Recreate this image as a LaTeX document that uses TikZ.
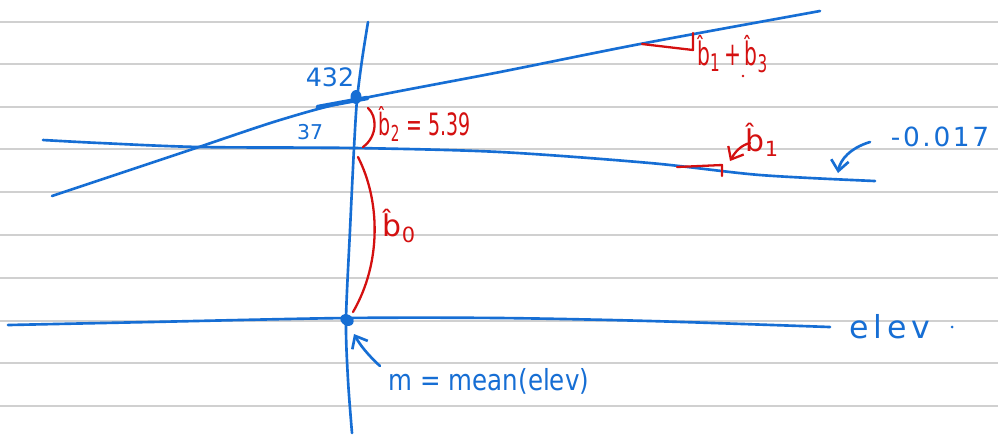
\documentclass[tikz,border=0pt]{standalone}
\usepackage{fontspec}
\setmainfont{DejaVu Sans}
\usepackage{graphicx}
\usetikzlibrary{arrows.meta}
\definecolor{inkblue}{RGB}{22,110,212}
\definecolor{inkred}{RGB}{212,16,16}
\definecolor{rule}{RGB}{208,208,208}
\tikzset{
  ruled/.style={draw=rule, line width=0.6pt},
  bluepen/.style={draw=inkblue, line width=0.75pt, line cap=round, line join=round},
  redpen/.style={draw=inkred, line width=0.65pt, line cap=round, line join=round},
  bluetxt/.style={text=inkblue, inner sep=0pt, font=\fontsize{7.5}{8}\selectfont},
  redtxt/.style={text=inkred, inner sep=0pt, font=\fontsize{8.5}{9}\selectfont},
  barb/.style={-{Straight Barb[length=3pt,width=5pt]}}
}
\begin{document}
\begin{tikzpicture}[x=0.01cm,y=-0.01cm]
\useasboundingbox (0,0) rectangle (998,435);
\fill[white] (0,0) rectangle (998,435);
% ruled paper
\foreach \yy in {22,64,107,149,192,235,278,321,363,406}
  \draw[ruled] (0,\yy) -- (998,\yy);

% vertical axis
\draw[bluepen] plot[smooth] coordinates {(368,22) (362,60) (357,100) (354,148) (350,230) (346,320) (348,380) (352,433)};
% elev axis
\draw[bluepen] plot[smooth] coordinates {(8,325) (150,322) (345,318) (500,318) (650,321) (830,327)};
% middle line
\draw[bluepen] plot[smooth] coordinates {(43,140) (100,143) (200,147) (355,148) (500,152) (650,163) (760,175) (875,181)};
% upper line
\draw[bluepen] plot[smooth] coordinates {(52,196) (190,150) (280,120) (355,100) (500,72) (640,44) (820,11)};
\draw[draw=inkblue, line width=1.3pt, line cap=round] (318,107) -- (367,98);

% dots
\coordinate (top) at (356,97);
\coordinate (origin) at (347,320);
\fill[inkblue] (top) ellipse [x radius=5.5, y radius=7];
\fill[inkblue, rotate around={-30:(origin)}] (origin) ellipse [x radius=7, y radius=5.5];

% labels on axis
\node[bluetxt, font=\fontsize{7.2}{8}\selectfont] (l432) at (330,77) {432};
\node[bluetxt, font=\fontsize{5.8}{7}\selectfont] (l37) at (310,132) {37};

% mean label
\node[bluetxt] (mlab) at (489,381) {\scalebox{0.93}[1.1]{m = mean(elev)}};
\coordinate (mtail) at (380,366);
\coordinate (mhead) at (354,334);
\draw[bluepen, barb] (mtail) .. controls (368,355) and (360,345) .. (mhead);

% elev label
\node[bluetxt, font=\fontsize{9}{10}\selectfont] (elev) at (890,327) {\addfontfeature{LetterSpace=15}elev};
\fill[inkblue] (952,327) circle (1.5);

% -0.017
\node[bluetxt, font=\fontsize{7.5}{8}\selectfont] (slope) at (940,137) {\addfontfeature{LetterSpace=10}-0.017};
\coordinate (s1tail) at (870,142);
\coordinate (s1head) at (838,173);
\draw[bluepen, barb] (s1tail) .. controls (850,148) and (840,160) .. (s1head);

% red: b0 bracket
\draw[redpen] (358,157) .. controls (380,200) and (382,262) .. (353,312);
\node[redtxt] (b0) at (400,226) {b̂\textsubscript{0}};
% red: b2 bracket
\draw[redpen] (363,147) .. controls (378,136) and (377,116) .. (368,108);
\node[redtxt, font=\fontsize{7}{8}\selectfont] (b2) at (425,124) {\scalebox{0.77}[1.25]{b̂\textsubscript{2} = 5.39}};

% red: slope triangle on upper line
\draw[redpen] (642,44) -- (693,50) -- (693,33);
\node[redtxt, font=\fontsize{8}{9}\selectfont] (b13) at (733,54) {\scalebox{0.72}[1.15]{b̂\textsubscript{1}\,+\,b̂\textsubscript{3}}};
\fill[inkred] (743,76) circle (1.3);

% red: slope triangle on middle line
\draw[redpen] (677,167) -- (722,165) -- (722,176);
\node[redtxt] (b1) at (763,140) {b̂\textsubscript{1}};
\coordinate (b1tail) at (750,143);
\coordinate (b1head) at (730,161);
\draw[redpen, barb] (b1tail) .. controls (741,145) and (735,152) .. (b1head);
\end{tikzpicture}
\end{document}
